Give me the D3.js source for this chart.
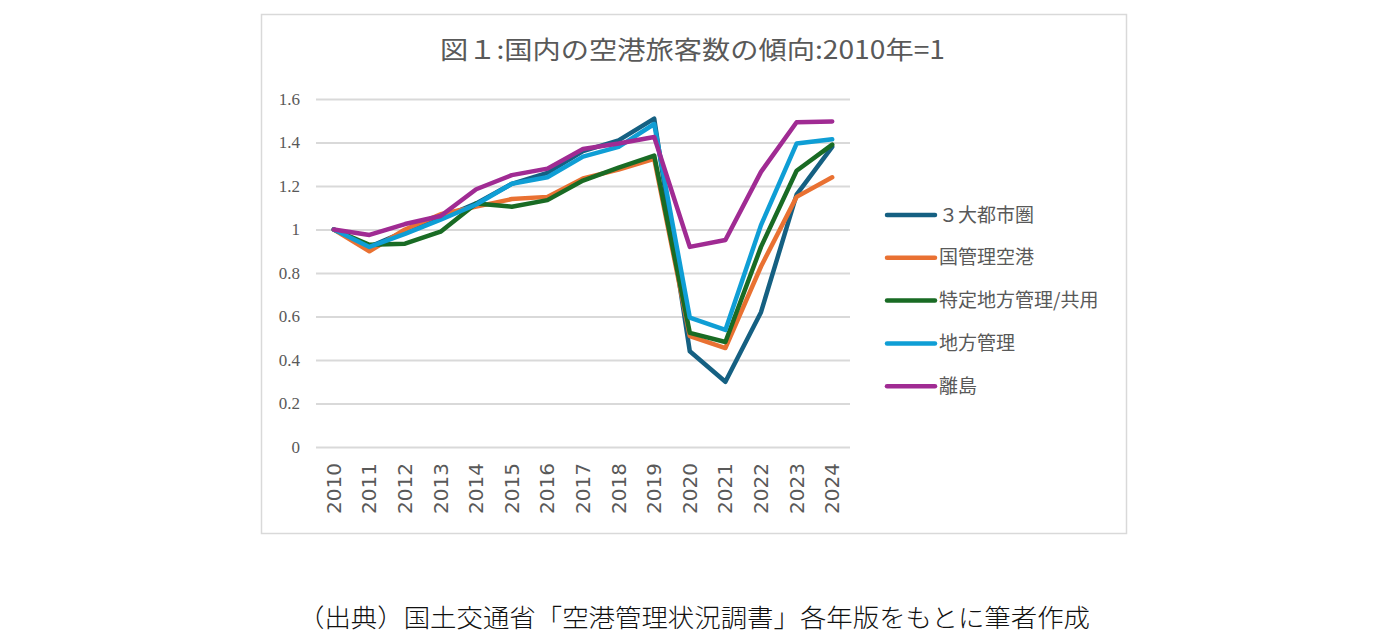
<!DOCTYPE html>
<html>
  <head>
    <meta charset="utf-8">
    <script type="text/javascript" src="https://cdn.jsdelivr.net/npm/d3@7"></script>
    <style>
      body { margin: 0; background: #fff; }
    </style>
  </head>
  <body>
    <div id="viz"></div>
    <script type="text/javascript">
      // data
      const years = ["2010","2011","2012","2013","2014","2015","2016","2017","2018","2019","2020","2021","2022","2023","2024"];
      const seriesNames = ["３大都市圏", "国管理空港", "特定地方管理/共用", "地方管理", "離島"];
      const metro    = [1.0, 0.92, 0.99, 1.05, 1.12, 1.21, 1.26, 1.36, 1.41, 1.51, 0.44, 0.30, 0.62, 1.16, 1.38];
      const national = [1.0, 0.90, 1.00, 1.07, 1.105, 1.14, 1.15, 1.235, 1.275, 1.325, 0.51, 0.455, 0.83, 1.15, 1.24];
      const special  = [1.0, 0.93, 0.935, 0.99, 1.12, 1.105, 1.135, 1.225, 1.285, 1.34, 0.525, 0.483, 0.92, 1.27, 1.39];
      const local    = [1.0, 0.92, 0.98, 1.045, 1.115, 1.21, 1.24, 1.335, 1.38, 1.485, 0.595, 0.538, 1.02, 1.395, 1.415];
      const islands  = [1.0, 0.975, 1.025, 1.062, 1.185, 1.25, 1.28, 1.37, 1.395, 1.425, 0.92, 0.952, 1.265, 1.493, 1.497];
      const colors = ["#156082", "#e97132", "#196b24", "#0f9ed5", "#a02b93"];
      const yTicks = [0, 0.2, 0.4, 0.6, 0.8, 1, 1.2, 1.4, 1.6];

      const allSeries = [metro, national, special, local, islands];

      const width = 1380, height = 638;
      const svg = d3.select("#viz").append("svg")
        .attr("width", width)
        .attr("height", height);

      // chart frame
      svg.append("rect")
        .attr("x", 261.5).attr("y", 14.5)
        .attr("width", 865).attr("height", 519)
        .attr("fill", "#fff")
        .attr("stroke", "#d9d9d9")
        .attr("stroke-width", 1.5);

      svg.append("text")
        .attr("x", 440).attr("y", 59)
        .attr("textLength", 505)
        .attr("lengthAdjust", "spacingAndGlyphs")
        .attr("font-family", "'Noto Sans CJK JP', sans-serif")
        .attr("font-size", 25)
        .attr("fill", "#595959")
        .text("図１:国内の空港旅客数の傾向:2010年=1");

      const x = d3.scaleBand().domain(years).range([316, 850]);
      const y = d3.scaleLinear().domain([0, 1.6]).range([447, 99]);

      const yAxis = d3.axisLeft(y)
        .tickValues(yTicks)
        .tickSize(-(850 - 316))
        .tickPadding(16)
        .tickFormat(d => d);

      const gy = svg.append("g")
        .attr("transform", "translate(316,0)")
        .call(yAxis);
      gy.select(".domain").remove();
      gy.selectAll(".tick line")
        .attr("stroke", "#d9d9d9")
        .attr("stroke-width", 2);
      gy.selectAll(".tick text")
        .attr("font-family", "'Liberation Serif', serif")
        .attr("font-size", 17)
        .attr("fill", "#595959");

      const xAxis = d3.axisBottom(x).tickSize(0).tickPadding(0);
      const gx = svg.append("g")
        .attr("transform", "translate(0,447)")
        .call(xAxis);
      gx.select(".domain").remove();
      gx.selectAll(".tick text")
        .attr("font-family", "'DejaVu Sans', sans-serif")
        .attr("font-size", 20)
        .attr("fill", "#595959")
        .attr("text-anchor", "end")
        .attr("transform", "rotate(-90)")
        .attr("x", -16)
        .attr("y", 0)
        .attr("dy", "0.35em");

      const line = d3.line()
        .x((d, i) => x(years[i]) + x.bandwidth() / 2)
        .y(d => y(d));

      svg.append("g").selectAll("path")
        .data(allSeries)
        .join("path")
        .attr("d", line)
        .attr("fill", "none")
        .attr("stroke", (d, i) => colors[i])
        .attr("stroke-width", 4.5)
        .attr("stroke-linejoin", "round")
        .attr("stroke-linecap", "round");

      // legend
      const legend = svg.append("g").selectAll("g")
        .data(seriesNames)
        .join("g")
        .attr("transform", (d, i) => "translate(887," + (215 + i * 42.8) + ")");
      legend.append("line")
        .attr("x1", 0).attr("x2", 48)
        .attr("stroke", (d, i) => colors[i])
        .attr("stroke-width", 4.5)
        .attr("stroke-linecap", "round");
      legend.append("text")
        .attr("x", 52)
        .attr("dy", "0.35em")
        .attr("font-family", "'Noto Sans CJK JP', sans-serif")
        .attr("font-size", 19)
        .attr("fill", "#595959")
        .text(d => d);

      svg.append("text")
        .attr("x", 298).attr("y", 627)
        .attr("textLength", 792)
        .attr("lengthAdjust", "spacingAndGlyphs")
        .attr("font-family", "'Noto Sans CJK JP', sans-serif")
        .attr("font-weight", 300)
        .attr("font-size", 25)
        .attr("fill", "#111")
        .text("（出典）国土交通省「空港管理状況調書」各年版をもとに筆者作成");
    </script>
  </body>
</html>
